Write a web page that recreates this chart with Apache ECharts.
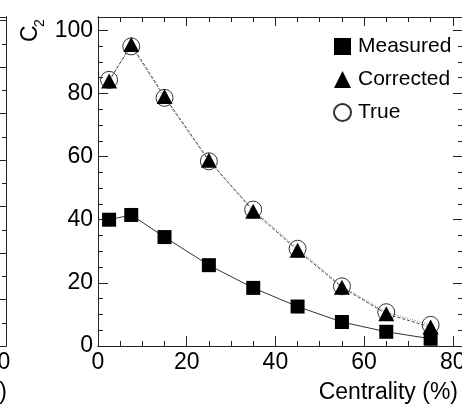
<!DOCTYPE html>
<html>
<head>
<meta charset="utf-8">
<script src="https://cdn.jsdelivr.net/npm/echarts@6/dist/echarts.min.js"></script>
<style>
html, body { margin: 0; padding: 0; background: #fff; }
#chart { width: 462px; height: 404px; }
</style>
</head>
<body>
<div id="chart"></div>
<script>
// centrality bin centres (%)
const centrality = [2.5, 7.5, 15, 25, 35, 45, 55, 65, 75];
// C2 values
const measured  = [40.0, 41.5, 34.5, 25.6, 18.4, 12.5, 7.6, 4.5, 2.3];
const corrected = [83.9, 95.5, 79.0, 58.8, 42.7, 30.3, 18.6, 10.2, 6.0];
const trueVals  = [84.3, 94.9, 78.6, 58.5, 43.2, 30.8, 18.9, 10.7, 6.7];

// tick positions
const xMajor = [0, 20, 40, 60, 80];
const xMinor = [5, 10, 15, 25, 30, 35, 45, 50, 55, 65, 70, 75];
const yMajor = [0, 20, 40, 60, 80, 100];
const yMinor = [5, 10, 15, 25, 30, 35, 45, 50, 55, 65, 70, 75, 85, 90, 95];
// neighbouring (cut off) panel on the left
const leftXLabels = [80];
const leftYMajor = [1, 2, 3, 4, 5, 6, 7];
const leftYMinor = [0.5, 1.5, 2.5, 3.5, 4.5, 5.5, 6.5];

const FONT = 'Liberation Sans';
const LINE = { color: '#222', width: 1 };

function axis(gridIndex, position, min, max, ticks, len, labels) {
    return {
        type: 'value',
        gridIndex: gridIndex,
        position: position,
        min: min,
        max: max,
        axisLine: { show: true, onZero: false, lineStyle: LINE },
        axisTick: { show: true, inside: true, length: len, customValues: ticks, lineStyle: LINE },
        axisLabel: labels
            ? { show: true, customValues: labels, fontSize: 23, fontFamily: FONT, color: '#000', margin: 5 }
            : { show: false },
        splitLine: { show: false },
        minorTick: { show: false }
    };
}

const X_MAX = 82.3, Y_MAX = 104.2;

const option = {
    animation: false,
    backgroundColor: '#fff',
    grid: [
        { left: 98, right: -1, top: 17, bottom: 58, outerBoundsMode: 'none', containLabel: false },
        { left: -400, width: 406, top: 17, bottom: 58, outerBoundsMode: 'none', containLabel: false }
    ],
    xAxis: [
        axis(0, 'bottom', 0, X_MAX, xMajor, 10, xMajor),
        axis(0, 'bottom', 0, X_MAX, xMinor, 5),
        axis(0, 'top', 0, X_MAX, xMajor, 9),
        axis(0, 'top', 0, X_MAX, xMinor, 5),
        axis(1, 'bottom', 0, 81.7, [], 0, leftXLabels),
        axis(1, 'top', 0, 81.7, [], 0)
    ],
    yAxis: [
        axis(0, 'left', 0, Y_MAX, yMajor, 10, yMajor),
        axis(0, 'left', 0, Y_MAX, yMinor, 5),
        axis(0, 'right', 0, Y_MAX, yMajor, 10),
        axis(0, 'right', 0, Y_MAX, yMinor, 5),
        axis(1, 'right', 0, 7.08, leftYMajor, 6),
        axis(1, 'right', 0, 7.08, leftYMinor, 4)
    ],
    legend: {
        orient: 'vertical',
        left: 333,
        top: 36,
        padding: 0,
        itemWidth: 17,
        itemHeight: 17,
        itemGap: 12,
        selectedMode: false,
        textStyle: { fontSize: 21, fontFamily: FONT, color: '#000', padding: [0, 0, 0, 2] },
        data: [
            { name: 'Measured', icon: 'rect' },
            { name: 'Corrected', icon: 'triangle' },
            { name: 'True', icon: 'circle' }
        ]
    },
    series: [
        {
            name: 'Measured',
            type: 'line',
            xAxisIndex: 0, yAxisIndex: 0,
            data: centrality.map((c, i) => [c, measured[i]]),
            symbol: 'rect',
            symbolSize: 14,
            itemStyle: { color: '#000' },
            lineStyle: { color: '#333', width: 1 },
            z: 4
        },
        {
            name: 'Corrected',
            type: 'line',
            xAxisIndex: 0, yAxisIndex: 0,
            data: centrality.map((c, i) => [c, corrected[i]]),
            symbol: 'triangle',
            symbolSize: [16, 15],
            itemStyle: { color: '#000' },
            lineStyle: { color: '#444', width: 1, type: [3, 2] },
            z: 4
        },
        {
            name: 'True',
            type: 'line',
            xAxisIndex: 0, yAxisIndex: 0,
            data: centrality.map((c, i) => [c, trueVals[i]]),
            symbol: 'circle',
            symbolSize: 17,
            itemStyle: { color: 'rgba(255,255,255,0)', borderColor: '#333', borderWidth: 1 },
            lineStyle: { color: '#777', width: 1, type: [1, 1.5] },
            z: 3
        }
    ],
    graphic: [
        {
            type: 'group', x: 42, y: 42, rotation: Math.PI / 2,
            children: [
                { type: 'text', x: 0, y: 0, style: { text: 'C', fontSize: 23, fontFamily: FONT, fill: '#000', align: 'left', verticalAlign: 'bottom' } },
                { type: 'text', x: 15, y: 5, style: { text: '2', fontSize: 14, fontFamily: FONT, fill: '#000', align: 'left', verticalAlign: 'bottom' } }
            ]
        },
        { type: 'text', x: 458, y: 381, style: { text: 'Centrality (%)', fontSize: 23, fontFamily: FONT, fill: '#000', align: 'right', verticalAlign: 'top' } },
        { type: 'text', x: 7, y: 381, style: { text: 'Centrality (%)', fontSize: 23, fontFamily: FONT, fill: '#000', align: 'right', verticalAlign: 'top' } }
    ]
};

const chart = echarts.init(document.getElementById('chart'));
chart.setOption(option);
</script>
</body>
</html>
